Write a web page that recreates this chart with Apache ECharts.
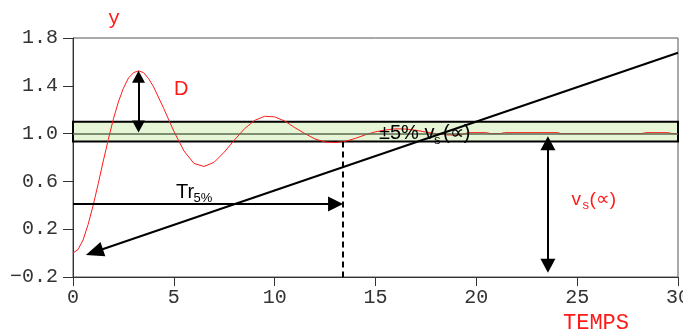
<!DOCTYPE html>
<html>
<head>
<meta charset="utf-8">
<script src="https://cdn.jsdelivr.net/npm/echarts@6/dist/echarts.min.js"></script>
<style>
html, body { margin: 0; padding: 0; background: #fff; }
#chart { width: 683px; height: 334px; }
</style>
</head>
<body>
<div id="chart"></div>
<script>
// temps et reponse indicielle
var temps = [0, 0.25, 0.5, 0.75, 1, 1.25, 1.5, 1.75, 2, 2.25, 2.5, 2.75, 3, 3.25, 3.5, 3.75, 4, 4.5, 5, 5.5,
    6, 6.5, 7, 7.5, 8, 8.5, 9, 9.5, 10, 10.5, 11, 11.5, 12, 12.5, 13, 13.5, 14, 14.5, 15, 15.5,
    16, 16.5, 17, 17.5, 18, 18.5, 19, 19.4, 19.6, 20.5, 20.7, 21.2, 21.4, 24, 24.2, 28.2, 28.4, 29.5, 29.7, 30];
var reponse = [0, 0.03, 0.11, 0.24, 0.40, 0.58, 0.77, 0.95, 1.12, 1.265, 1.38, 1.465, 1.51, 1.525, 1.51, 1.46, 1.39, 1.21, 1.02, 0.855,
    0.75, 0.725, 0.76, 0.845, 0.945, 1.04, 1.11, 1.145, 1.14, 1.105, 1.05, 1.0, 0.955, 0.93, 0.925, 0.935, 0.96, 0.99, 1.015, 1.03,
    1.04, 1.038, 1.028, 1.013, 0.999, 0.99, 0.986, 0.998, 1.008, 1.008, 1.0, 1.0, 1.008, 1.008, 1.0, 1.0, 1.008, 1.008, 1.0, 1.0];

var xTicks = [0, 5, 10, 15, 20, 25, 30];
var yTicks = [-0.2, 0.2, 0.6, 1.0, 1.4, 1.8];

// bande de +/-5 % autour de la valeur finale
var bande = [0.933, 1.10];
var valeurFinale = 1.0;

// fleches (debut, fin) en coordonnees du graphe
var flecheD = [[3.25, 1.475], [3.25, 1.06]];
var flecheVs = [[23.55, 0.92], [23.55, -0.106]];
var flecheDiag = [[1.06, 0.009], [30, 1.677]];
var flecheTr = [[0, 0.41], [13.02, 0.41]];
var tiretTr = [[13.4, 0.933], [13.4, -0.2]];

var courbe = temps.map(function (t, i) { return [t, reponse[i]]; });

function seg(p) {
    return [{ coord: p[0] }, { coord: p[1] }];
}

var rouge = '#ff1a1a';
var mono = '"Liberation Mono", monospace';
var sans = '"Liberation Sans", Arial, sans-serif';

function texte(x, y, str, size, color, family) {
    return {
        type: 'text', x: x, y: y, z: 100,
        style: {
            text: str, fill: color, font: size + 'px ' + family,
            align: 'left', verticalAlign: 'middle',
            textAlign: 'left', textVerticalAlign: 'middle'
        }
    };
}

var dD = seg(flecheD);
dD[0].symbolSize = dD[1].symbolSize = [13, 12];
var dVs = seg(flecheVs);
dVs[0].symbolSize = dVs[1].symbolSize = [15, 14];
var dDiag = seg(flecheDiag);
dDiag[0].symbol = 'triangle';
dDiag[0].symbolSize = [15, 18];
var dTr = seg(flecheTr);
dTr[1].symbol = 'triangle';
dTr[1].symbolSize = [15, 15];
var dTiret = seg(tiretTr);
dTiret[0].lineStyle = { type: [6, 4] };

var myChart = echarts.init(document.getElementById('chart'));
var option = {
    animation: false,
    grid: {
        left: 73, right: 5, top: 38, bottom: 57,
        outerBoundsMode: 'none',
        show: true, borderColor: '#555', borderWidth: 1, backgroundColor: 'transparent'
    },
    xAxis: {
        type: 'value',
        min: xTicks[0], max: xTicks[xTicks.length - 1], interval: xTicks[1] - xTicks[0],
        axisLine: { show: true, onZero: false, lineStyle: { color: '#333', width: 1 } },
        axisTick: { show: true, length: 9, lineStyle: { color: '#333', width: 1 } },
        axisLabel: { fontFamily: mono, fontSize: 20, color: '#333', margin: 11 },
        splitLine: { show: false }
    },
    yAxis: {
        type: 'value',
        min: yTicks[0], max: yTicks[yTicks.length - 1], interval: 0.4,
        axisLine: { show: true, onZero: false, lineStyle: { color: '#333', width: 1 } },
        axisTick: { show: true, length: 10, lineStyle: { color: '#333', width: 1 } },
        axisLabel: {
            fontFamily: mono, fontSize: 20, color: '#333', margin: 15,
            padding: [0, 0, 7, 0],
            formatter: function (v) { return v.toFixed(1).replace('-', '\u2212'); }
        },
        splitLine: { show: false }
    },
    graphic: [
        texte(108, 19, 'y', 20, rouge, mono),
        texte(563, 323, 'TEMPS', 22, rouge, mono),
        texte(174, 89, 'D', 20, rouge, sans),
        texte(176, 192.5, 'Tr', 20, '#000', sans),
        texte(193.5, 198, '5%', 13, '#000', sans),
        texte(379, 133, '\u00b15% v', 20, '#000', sans),
        texte(434, 140, 's', 13, '#000', sans),
        texte(443, 133, '(\u221d)', 20, '#000', sans),
        texte(571.5, 199.5, 'v', 19, rouge, sans),
        texte(582.5, 205.5, 's', 13, rouge, sans),
        texte(589.5, 199.5, '(\u221d)', 19, rouge, sans)
    ],
    series: [
        {
            type: 'line', data: courbe, showSymbol: false, z: 2, silent: true,
            lineStyle: { color: rouge, width: 1 }
        },
        {
            // fleches sous la bande
            type: 'line', data: [], z: 3, clip: false,
            markLine: {
                silent: true, animation: false,
                symbol: ['triangle', 'triangle'],
                label: { show: false },
                lineStyle: { color: '#000', width: 2, type: 'solid' },
                data: [dD, dVs]
            }
        },
        {
            // bande +/- 5 %
            type: 'line', data: [], z: 4, clip: false,
            markArea: {
                silent: true,
                itemStyle: { color: 'rgba(150,215,90,0.25)', borderColor: '#000', borderWidth: 2 },
                data: [[{ yAxis: bande[0] }, { yAxis: bande[1] }]]
            },
            markLine: {
                silent: true, symbol: ['none', 'none'],
                label: { show: false },
                lineStyle: { color: '#5b6b52', width: 1.5, type: 'solid' },
                data: [{ yAxis: valeurFinale }]
            }
        },
        {
            // fleches au-dessus de la bande
            type: 'line', data: [], z: 5, clip: false,
            markLine: {
                silent: true, symbol: ['none', 'none'],
                label: { show: false },
                lineStyle: { color: '#000', width: 2, type: 'solid' },
                data: [dDiag, dTr, dTiret]
            }
        }
    ]
};
myChart.setOption(option);
</script>
</body>
</html>
